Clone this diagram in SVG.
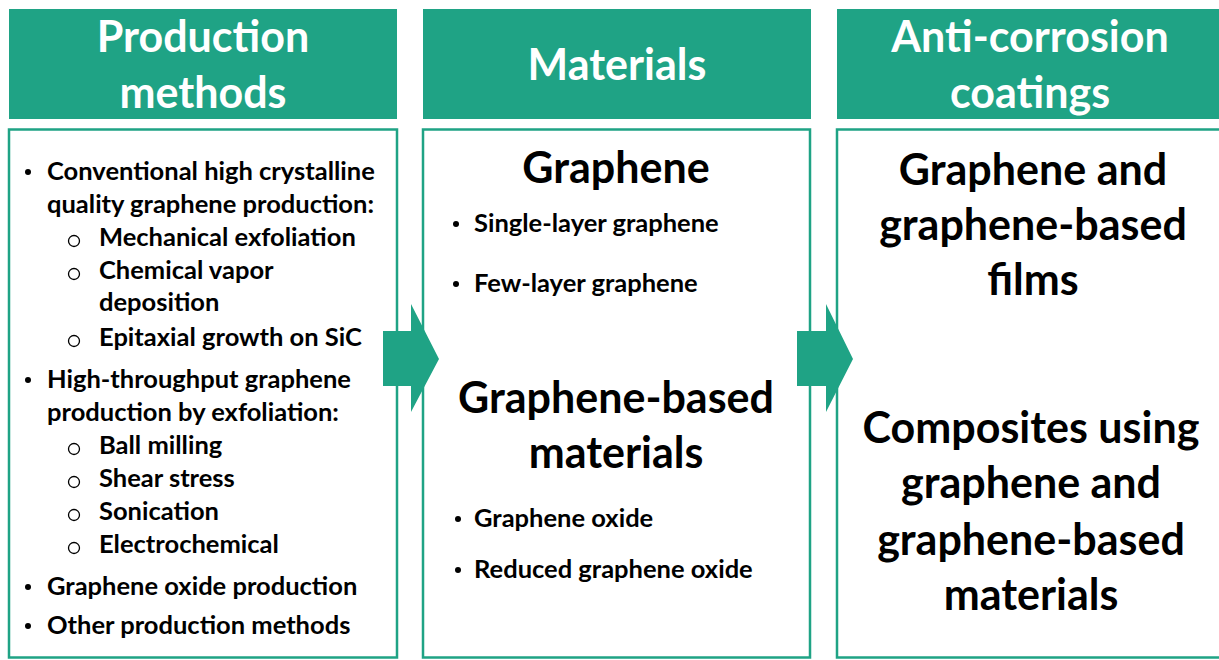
<svg xmlns="http://www.w3.org/2000/svg" width="1219" height="660" viewBox="0 0 1219 660">
  <style>
    .hdr { fill: #1fa385; }
    .box { fill: #ffffff; stroke: #1fa385; stroke-width: 2.5; }
    .arrow { fill: #1fa385; }
    .ht { font-family: Lato, "Open Sans", sans-serif; font-weight: 700; font-size: 43px; fill: #ffffff; text-anchor: middle; }
    .lt { font-family: Lato, "Open Sans", sans-serif; font-weight: 700; font-size: 25.5px; fill: #000000; }
    .mt { font-family: Lato, "Open Sans", sans-serif; font-weight: 700; font-size: 25.5px; fill: #000000; }
    .big { font-family: Lato, "Open Sans", sans-serif; font-weight: 700; font-size: 43px; fill: #000000; text-anchor: middle; }
    .ring { fill: none; stroke: #000000; stroke-width: 1.3; }
  </style>

  <rect width="1219" height="660" fill="#ffffff"/>

  <!-- Column 1: production methods -->
  <g id="production-methods">
    <rect class="hdr" x="9" y="9" width="388" height="110"/>
    <text class="ht" x="203" y="52">Production</text>
    <text class="ht" x="203" y="108">methods</text>
    <rect class="box" x="9" y="129.5" width="388" height="528"/>
    <g class="lt">
      <text x="47" y="180">Conventional high crystalline</text>
      <text x="47" y="213">quality graphene production:</text>
      <text x="99" y="246">Mechanical exfoliation</text>
      <text x="99" y="279">Chemical vapor</text>
      <text x="99" y="311">deposition</text>
      <text x="99" y="346">Epitaxial growth on SiC</text>
      <text x="47" y="388">High-throughput graphene</text>
      <text x="47" y="421">production by exfoliation:</text>
      <text x="99" y="454">Ball milling</text>
      <text x="99" y="487">Shear stress</text>
      <text x="99" y="520">Sonication</text>
      <text x="99" y="553">Electrochemical</text>
      <text x="47" y="595">Graphene oxide production</text>
      <text x="47" y="634">Other production methods</text>
    </g>
    <g fill="#000000">
      <circle cx="28" cy="172" r="3"/>
      <circle cx="28" cy="380" r="3"/>
      <circle cx="28" cy="587" r="3"/>
      <circle cx="28" cy="626" r="3"/>
    </g>
    <g class="ring">
      <circle cx="74" cy="241" r="5.5"/>
      <circle cx="74" cy="274" r="5.5"/>
      <circle cx="74" cy="341" r="5.5"/>
      <circle cx="74" cy="449" r="5.5"/>
      <circle cx="74" cy="482" r="5.5"/>
      <circle cx="74" cy="515" r="5.5"/>
      <circle cx="74" cy="548" r="5.5"/>
    </g>
  </g>

  <!-- Column 2: materials -->
  <g id="materials">
    <rect class="hdr" x="423" y="9" width="388" height="110"/>
    <text class="ht" x="617" y="80">Materials</text>
    <rect class="box" x="423" y="129.5" width="387" height="528"/>
    <text class="big" x="616" y="183">Graphene</text>
    <text class="mt" x="474" y="232">Single-layer graphene</text>
    <text class="mt" x="474" y="292">Few-layer graphene</text>
    <text class="big" x="616" y="413">Graphene-based</text>
    <text class="big" x="616" y="468">materials</text>
    <text class="mt" x="474" y="527">Graphene oxide</text>
    <text class="mt" x="474" y="578">Reduced graphene oxide</text>
    <g fill="#000000">
      <circle cx="456" cy="224" r="3"/>
      <circle cx="456" cy="284" r="3"/>
      <circle cx="458" cy="519" r="3"/>
      <circle cx="458" cy="570" r="3"/>
    </g>
  </g>

  <!-- Column 3: anti-corrosion coatings -->
  <g id="anti-corrosion-coatings">
    <rect class="hdr" x="837" y="9" width="384" height="110"/>
    <text class="ht" x="1030" y="52">Anti-corrosion</text>
    <text class="ht" x="1030" y="108">coatings</text>
    <rect class="box" x="837" y="129.5" width="390" height="528"/>
    <text class="big" x="1033" y="185">Graphene and</text>
    <text class="big" x="1033" y="240">graphene-based</text>
    <text class="big" x="1033" y="295">films</text>
    <text class="big" x="1031" y="443">Composites using</text>
    <text class="big" x="1031" y="498">graphene and</text>
    <text class="big" x="1031" y="555">graphene-based</text>
    <text class="big" x="1031" y="610">materials</text>
  </g>

  <!-- Block arrows between columns -->
  <g id="connectors">
    <path class="arrow" d="M383 331 H411 V304 L439 359 L411 412 V386 H383 Z"/>
    <path class="arrow" d="M797 331 H826 V304 L853 359 L826 412 V386 H797 Z"/>
  </g>
</svg>
